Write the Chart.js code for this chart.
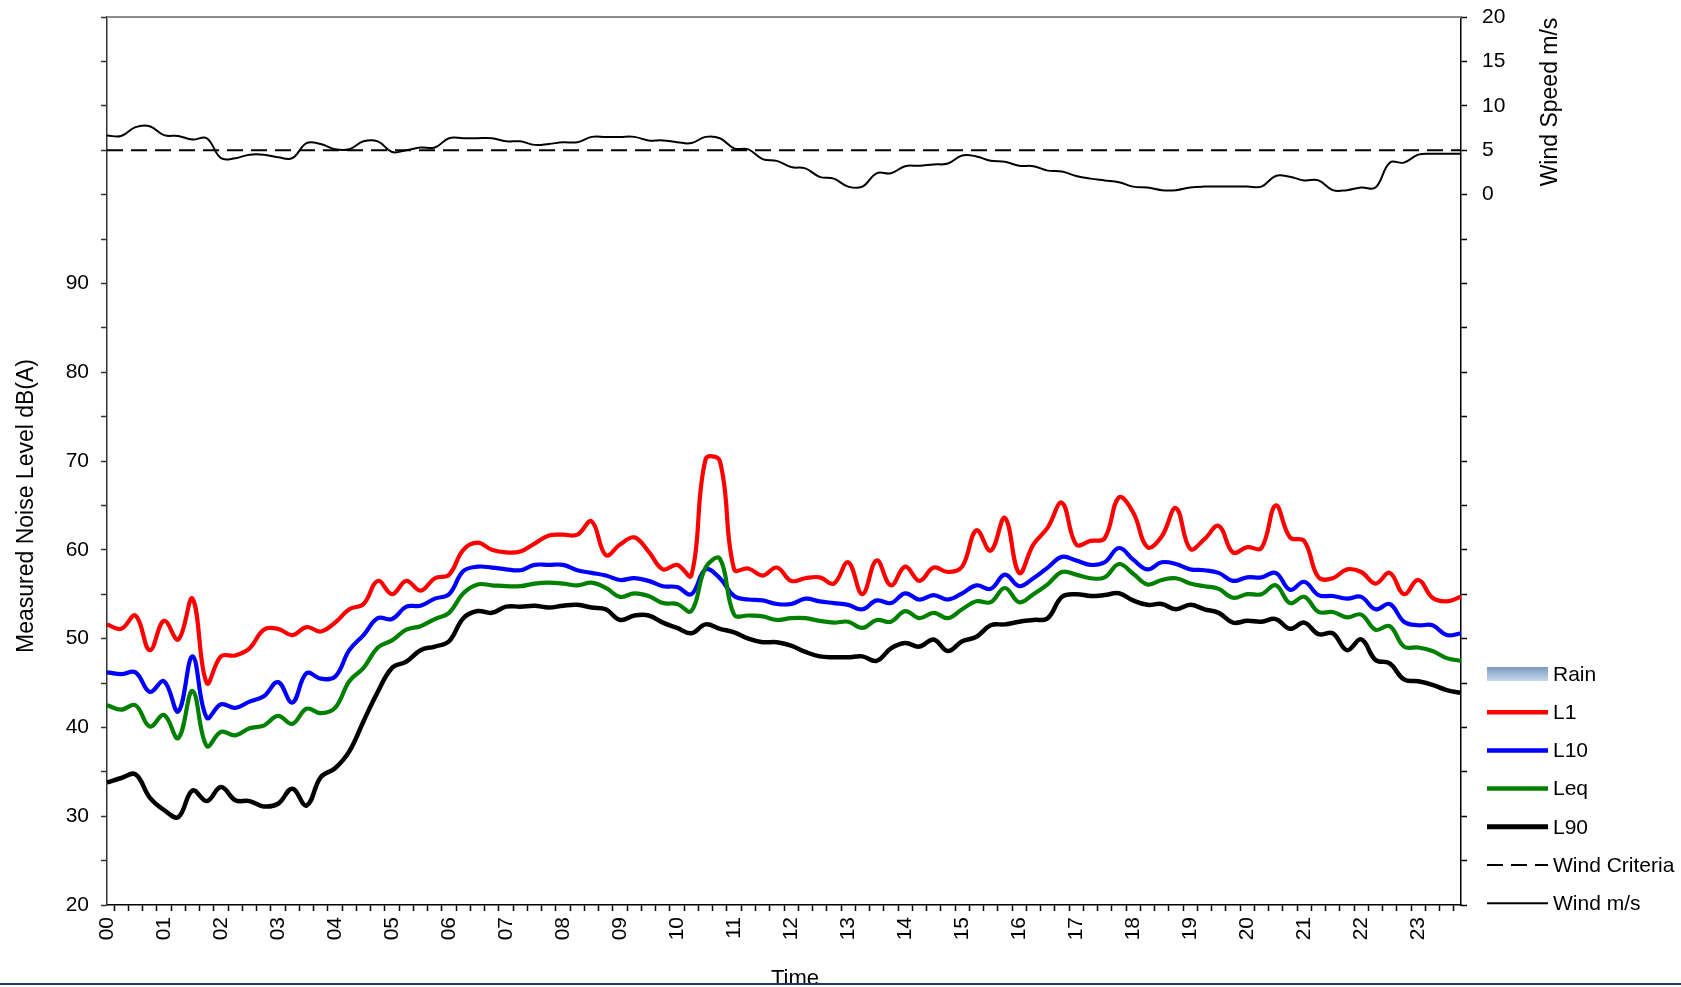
<!DOCTYPE html>
<html><head><meta charset="utf-8">
<script src="https://cdn.jsdelivr.net/npm/chart.js@4/dist/chart.umd.min.js"></script>
<style>html,body{margin:0;padding:0;background:#fff;overflow:hidden}canvas{display:block}</style>
</head><body>
<canvas id="c" width="1681" height="987"></canvas>
<script>
const times = [
'00:00','00:15','00:30','00:45','01:00','01:15','01:30','01:45','02:00','02:15','02:30','02:45',
'03:00','03:15','03:30','03:45','04:00','04:15','04:30','04:45','05:00','05:15','05:30','05:45',
'06:00','06:15','06:30','06:45','07:00','07:15','07:30','07:45','08:00','08:15','08:30','08:45',
'09:00','09:15','09:30','09:45','10:00','10:15','10:30','10:45','11:00','11:15','11:30','11:45',
'12:00','12:15','12:30','12:45','13:00','13:15','13:30','13:45','14:00','14:15','14:30','14:45',
'15:00','15:15','15:30','15:45','16:00','16:15','16:30','16:45','17:00','17:15','17:30','17:45',
'18:00','18:15','18:30','18:45','19:00','19:15','19:30','19:45','20:00','20:15','20:30','20:45',
'21:00','21:15','21:30','21:45','22:00','22:15','22:30','22:45','23:00','23:15','23:30','23:45'];

const L1 = [51.6,51.1,52.6,48.7,52.0,49.9,54.5,45.0,48.0,48.1,48.9,51.0,51.1,50.4,51.3,50.8,51.8,53.3,53.9,56.5,55.0,56.5,55.4,56.8,57.2,60.0,60.8,60.0,59.7,59.8,60.7,61.6,
61.7,61.7,63.2,59.4,60.6,61.4,59.8,57.8,58.3,57.1,70.2,70.0,57.8,57.9,57.1,58.0,56.5,56.8,56.9,56.2,58.6,55.0,58.8,56.0,58.1,56.5,58.0,57.5,58.1,62.2,59.9,63.6,
57.4,60.6,62.5,65.3,60.6,61.0,61.3,65.9,64.2,60.3,61.5,64.7,60.1,61.2,62.7,59.7,60.3,60.2,65.0,61.4,61.0,56.9,56.8,57.8,57.5,56.2,57.4,55.0,56.6,54.6,54.2,54.7];

const L10 = [46.2,46.0,46.2,44.0,45.2,41.8,48.0,41.1,42.6,42.2,42.9,43.5,45.1,42.8,46.1,45.5,45.7,48.7,50.4,52.3,52.2,53.6,53.7,54.5,55.0,57.6,58.1,58.0,57.8,57.7,58.3,58.3,
58.3,57.7,57.4,57.1,56.6,56.8,56.5,55.9,55.8,55.0,57.8,56.8,54.8,54.4,54.3,53.9,53.9,54.5,54.2,54.0,53.8,53.3,54.3,54.0,55.1,54.4,54.9,54.4,55.1,56.0,55.6,57.2,
55.9,56.8,58.0,59.2,58.8,58.3,58.6,60.2,58.9,57.8,58.6,58.4,57.8,57.7,57.4,56.5,56.9,56.9,57.4,55.5,56.4,54.9,54.8,54.5,54.7,53.3,53.9,51.9,51.5,51.5,50.4,50.6];

const Leq = [42.5,42.0,42.5,40.1,41.4,38.8,44.1,37.9,39.5,39.1,39.9,40.2,41.3,40.4,42.1,41.6,42.2,45.2,46.7,49.0,49.8,51.0,51.4,52.2,52.9,55.1,56.1,56.0,55.9,55.9,56.2,56.3,
56.2,56.0,56.3,55.7,54.7,55.1,54.8,54.0,53.9,53.1,58.0,59.0,52.7,52.6,52.5,52.1,52.3,52.3,52.0,51.8,51.9,51.2,52.1,51.9,53.1,52.3,52.9,52.3,53.3,54.2,54.1,55.7,
54.1,55.0,56.1,57.5,57.2,56.8,56.9,58.4,57.3,56.1,56.6,56.8,56.2,55.9,55.6,54.6,55.0,55.0,56.0,54.0,54.7,53.0,53.0,52.4,52.7,51.0,51.4,49.1,49.0,48.6,47.8,47.5];

const L90 = [33.8,34.3,34.7,32.1,30.7,29.9,32.9,31.7,33.3,31.8,31.7,31.1,31.4,33.1,31.2,34.4,35.4,37.3,40.7,44.0,46.7,47.4,48.7,49.1,49.7,52.3,53.1,52.9,53.6,53.6,53.7,53.5,
53.7,53.8,53.5,53.3,52.1,52.6,52.6,51.8,51.2,50.6,51.6,51.1,50.7,50.0,49.6,49.6,49.2,48.5,48.0,47.9,47.9,48.0,47.5,48.9,49.5,49.1,49.9,48.6,49.7,50.2,51.5,51.6,
51.9,52.1,52.3,54.7,55.0,54.8,54.9,55.1,54.3,53.8,53.9,53.3,53.8,53.3,52.9,51.8,52.0,51.9,52.2,51.1,51.8,50.5,50.6,48.7,49.9,47.6,47.2,45.4,45.2,44.8,44.2,43.9];

const wind = [6.65,6.6,7.6,7.7,6.7,6.6,6.2,6.35,4.1,4.1,4.5,4.5,4.2,4.1,5.8,5.7,5.1,5.1,6.0,6.0,4.8,5.0,5.3,5.3,6.35,6.35,6.35,6.35,6.0,6.0,5.6,5.7,
5.9,5.9,6.5,6.5,6.5,6.5,6.1,6.1,5.9,5.8,6.5,6.35,5.2,5.1,4.0,3.8,3.1,2.95,2.0,1.8,0.9,0.9,2.4,2.4,3.2,3.25,3.4,3.5,4.4,4.3,3.8,3.7,
3.25,3.2,2.7,2.6,2.1,1.8,1.6,1.4,0.9,0.8,0.5,0.5,0.8,0.9,0.9,0.9,0.9,0.9,2.1,2.0,1.6,1.6,0.5,0.5,0.8,0.8,3.6,3.6,4.5,4.6,4.6,4.6];

const rain = [0,0,0,0,0,0,0,0,0,0,0,0,0,0,0,0,0,0,0,0,0,0,0,0,0,0,0,0,0,0,0,0,
0,0,0,0,0,0,0,0,0,0,0,0,0,0,0,0,0,0,0,0,0,0,0,0,0,0,0,0,0,0,0,0,
0,0,0,0,0,0,0,0,0,0,0,0,0,0,0,0,0,0,0,0,0,0,0,0,0,0,0,0,0,0,0,0];

const WIND_CRITERIA = 5;
const noiseTicks = [20,30,40,50,60,70,80,90];
const windTicks = [0,5,10,15,20];
const yTitle = 'Measured Noise Level dB(A)';
const y2Title = 'Wind Speed m/s';
const xTitle = 'Time';

const FONT = '"Liberation Sans", Arial, sans-serif';

const legendItems = [
  {label:'Rain', type:'rain'},
  {label:'L1', color:'#ff0000', width:4.5},
  {label:'L10', color:'#0000ff', width:4.5},
  {label:'Leq', color:'#008000', width:4.5},
  {label:'L90', color:'#000000', width:5},
  {label:'Wind Criteria', color:'#000000', width:2, dash:[16,8]},
  {label:'Wind m/s', color:'#000000', width:2}
];

const decor = {
  id:'decor',
  afterDraw(chart){
    const ctx = chart.ctx, a = chart.chartArea;
    ctx.save();
    ctx.strokeStyle = '#8c8c8c'; ctx.lineWidth = 2;
    ctx.beginPath(); ctx.moveTo(a.left, a.top); ctx.lineTo(a.right, a.top); ctx.stroke();
    ctx.fillStyle = '#000';
    ctx.font = '23px ' + FONT;
    ctx.textAlign = 'center'; ctx.textBaseline = 'middle';
    ctx.save(); ctx.translate(27, 506); ctx.rotate(-Math.PI/2); ctx.fillText(yTitle, 0, 0); ctx.restore();
    ctx.save(); ctx.translate(1551, 102); ctx.rotate(-Math.PI/2); ctx.fillText(y2Title, 0, 0); ctx.restore();
    ctx.font = '22px ' + FONT;
    ctx.textBaseline = 'alphabetic';
    ctx.fillText(xTitle, 795, 985);
    ctx.fillStyle = '#fff'; ctx.fillRect(0, 984, chart.width, 4);
    ctx.strokeStyle = '#1f3864'; ctx.lineWidth = 2;
    ctx.beginPath(); ctx.moveTo(0, 984); ctx.lineTo(chart.width, 984); ctx.stroke();
    // legend
    const x0 = 1487, x1 = 1548, tx = 1553, y0 = 674, dy = 38.2;
    ctx.font = '21px ' + FONT; ctx.textAlign = 'left'; ctx.textBaseline = 'middle';
    legendItems.forEach((it, k) => {
      const y = y0 + dy * k;
      if (it.type === 'rain') {
        const g = ctx.createLinearGradient(0, y - 7, 0, y + 7);
        g.addColorStop(0, '#7c9bbf'); g.addColorStop(1, '#c6d9ee');
        ctx.fillStyle = g; ctx.fillRect(x0, y - 7, x1 - x0, 14);
      } else {
        ctx.strokeStyle = it.color; ctx.lineWidth = it.width;
        ctx.setLineDash(it.dash || []);
        ctx.beginPath(); ctx.moveTo(x0, y); ctx.lineTo(x1, y); ctx.stroke();
        ctx.setLineDash([]);
      }
      ctx.fillStyle = '#000';
      ctx.fillText(it.label, tx, y + 1);
    });
    ctx.restore();
  }
};

const lineDs = (label, data, color, width, axis, extra) => Object.assign({
  type:'line', label, data, borderColor:color, backgroundColor:color, borderWidth:width,
  pointRadius:0, tension:0.4, fill:false, yAxisID:axis
}, extra || {});

new Chart(document.getElementById('c'), {
  data:{
    labels: times,
    datasets:[
      {type:'bar', label:'Rain', data:rain, backgroundColor:'#9fb9d9', borderWidth:0, yAxisID:'y2', order:9},
      lineDs('Wind m/s', wind, '#000', 2, 'y2', {order:6}),
      lineDs('Wind Criteria', times.map(() => WIND_CRITERIA), '#000', 2, 'y2', {borderDash:[16,8], tension:0, order:5}),
      lineDs('L90', L90, '#000', 4.5, 'y', {order:4}),
      lineDs('Leq', Leq, '#008000', 4.2, 'y', {order:2}),
      lineDs('L10', L10, '#0000ff', 4.2, 'y', {order:3}),
      lineDs('L1', L1, '#ff0000', 4.2, 'y', {order:1})
    ]
  },
  options:{
    responsive:false, animation:false,
    layout:{padding:{top:17, left:0, right:0, bottom:0}},
    plugins:{legend:{display:false}, tooltip:{enabled:false}},
    scales:{
      x:{
        type:'category', offset:false,
        grid:{display:true, drawOnChartArea:false, drawTicks:true, tickLength:6, tickColor:'#000', tickWidth:1.5},
        border:{display:true, color:'#000', width:1.5},
        ticks:{autoSkip:false, maxRotation:90, minRotation:90, padding:6, color:'#000',
          font:{family:FONT, size:21},
          callback:(v, i) => times[i].endsWith(':00') ? times[i].slice(0,2) : ''},
        afterFit:(s) => { s.height = 82; s.paddingLeft = 0; s.paddingRight = 0; }
      },
      y:{
        type:'linear', position:'left', min:20, max:120,
        grid:{display:true, drawOnChartArea:false, drawTicks:true, tickLength:6, tickColor:'#333', tickWidth:1.5},
        border:{display:true, color:'#333', width:1.5},
        ticks:{stepSize:5, autoSkip:false, padding:12, color:'#000', font:{family:FONT, size:21},
          callback:(v) => noiseTicks.includes(v) ? String(v) : ''},
        afterFit:(s) => { s.width = 107; s.paddingTop = 0; s.paddingBottom = 0; }
      },
      y2:{
        type:'linear', position:'right', min:-80, max:20,
        grid:{display:true, drawOnChartArea:false, drawTicks:true, tickLength:6, tickColor:'#000', tickWidth:1.5},
        border:{display:true, color:'#000', width:1.5},
        ticks:{stepSize:5, autoSkip:false, padding:15, color:'#000', font:{family:FONT, size:21},
          callback:(v) => windTicks.includes(v) ? String(v) : ''},
        afterFit:(s) => { s.width = 220; s.paddingTop = 0; s.paddingBottom = 0; }
      }
    }
  },
  plugins:[decor]
});
</script>
</body></html>
